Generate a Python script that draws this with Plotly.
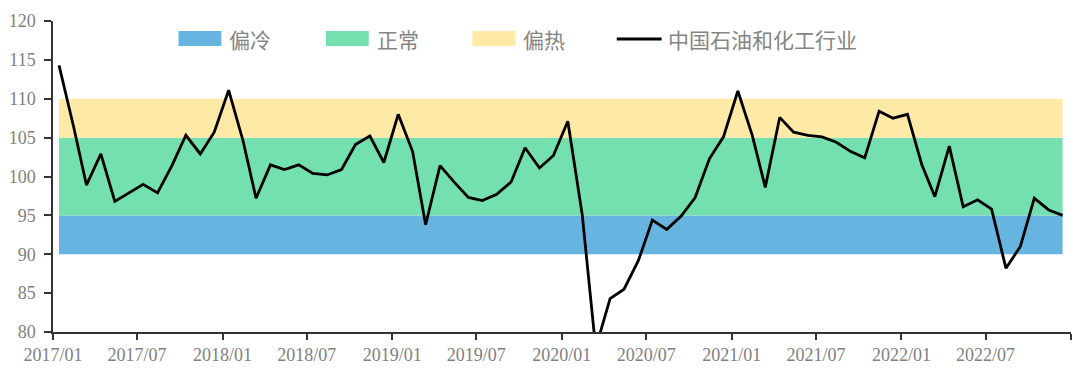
import plotly.graph_objects as go
import pandas as pd

# ---- data ----
months = pd.date_range("2017-01-01", "2022-12-01", freq="MS")
month_labels = [d.strftime("%Y/%m") for d in months]

industry = [114.3, 106.5, 98.9, 102.9, 96.8, 97.9, 99.0, 97.9, 101.4, 105.3, 102.9, 105.7,
            111.1, 104.6, 97.2, 101.5, 100.9, 101.5, 100.4, 100.2, 100.9, 104.1, 105.2, 101.8,
            108.0, 103.2, 93.8, 101.4, 99.3, 97.3, 96.9, 97.7, 99.3, 103.7, 101.1, 102.7,
            107.1, 95.1, 77.9, 84.3, 85.5, 89.2, 94.4, 93.2, 94.9, 97.3, 102.3, 105.1,
            111.0, 105.3, 98.6, 107.6, 105.7, 105.3, 105.1, 104.4, 103.2, 102.4, 108.4, 107.5,
            108.0, 101.5, 97.4, 103.9, 96.1, 97.0, 95.8, 88.2, 91.0, 97.2, 95.7, 95.0]

band_names = ["偏冷", "正常", "偏热"]
band_edges = [90, 95, 105, 110]
band_colors = ["#67B4E0", "#75E0AF", "#FFE9A6"]
line_name = "中国石油和化工行业"
line_color = "#000000"

tick_months = ["2017/01", "2017/07", "2018/01", "2018/07", "2019/01", "2019/07",
               "2020/01", "2020/07", "2021/01", "2021/07", "2022/01", "2022/07", "2023/01"]
tick_text = tick_months[:-1] + [""]

# ---- figure ----
W, H = 1080, 376
ML, MR, MT, MB = 49, 9, 21, 44
x_dates = [d + pd.Timedelta(days=13) for d in months]

fig = go.Figure()
fig.add_trace(go.Scatter(x=x_dates, y=[band_edges[0]] * len(x_dates), mode="lines",
                         line=dict(width=0), hoverinfo="skip", showlegend=False))
for i, name in enumerate(band_names):
    fig.add_trace(go.Scatter(x=x_dates, y=[band_edges[i + 1]] * len(x_dates), mode="lines",
                             line=dict(width=0), fill="tonexty", fillcolor=band_colors[i],
                             name=name, showlegend=False))
fig.add_trace(go.Scatter(x=x_dates, y=industry, mode="lines", name=line_name,
                         line=dict(color=line_color, width=2.8), showlegend=False))

pw, ph = W - ML - MR, H - MT - MB
def px(x):
    return (x - ML) / pw
def py(y):
    return (H - MB - y) / ph

shapes = []
annotations = []
legend_items = [
    (175, band_colors[0], band_names[0], "rect"),
    (323, band_colors[1], band_names[1], "rect"),
    (470, band_colors[2], band_names[2], "rect"),
    (615, line_color, line_name, "line"),
]
for x0, col, txt, kind in legend_items:
    if kind == "rect":
        shapes.append(dict(type="rect", xref="paper", yref="paper",
                           x0=px(x0), x1=px(x0 + 43), y0=py(46), y1=py(31),
                           fillcolor=col, line=dict(width=0), layer="above"))
    else:
        shapes.append(dict(type="line", xref="paper", yref="paper",
                           x0=px(x0), x1=px(x0 + 45), y0=py(39), y1=py(39),
                           line=dict(color=col, width=3), layer="above"))
    annotations.append(dict(text=txt, xref="paper", yref="paper", x=px(x0 + 49), y=py(39.5),
                            xanchor="left", yanchor="middle", showarrow=False,
                            font=dict(family="Noto Sans CJK SC", size=21, color="#858585")))

fig.update_layout(
    width=W, height=H, margin=dict(l=ML, r=MR, t=MT, b=MB),
    paper_bgcolor="white", plot_bgcolor="white",
    shapes=shapes, annotations=annotations, showlegend=False,
    xaxis=dict(type="date", range=["2017-01-01", "2023-01-01"],
               tickvals=[pd.Timestamp(t.replace("/", "-") + "-01") for t in tick_months],
               ticktext=tick_text, showgrid=False, zeroline=False,
               showline=True, linecolor="#333333", linewidth=1.5,
               ticks="outside", ticklen=6, tickcolor="#333333", tickwidth=1.5,
               tickfont=dict(family="Liberation Serif", size=18, color="#808080")),
    yaxis=dict(range=[80, 120], tickvals=list(range(80, 121, 5)), showgrid=False,
               zeroline=False, showline=True, linecolor="#333333", linewidth=1.5,
               ticks="outside", ticklen=7, tickcolor="#333333", tickwidth=1.5,
               ticklabelstandoff=5,
               tickfont=dict(family="Liberation Serif", size=18, color="#808080")),
)

fig.write_html("out.html", config={"displayModeBar": False},
               post_script="document.body.style.margin='0';document.body.style.overflow='hidden';")
